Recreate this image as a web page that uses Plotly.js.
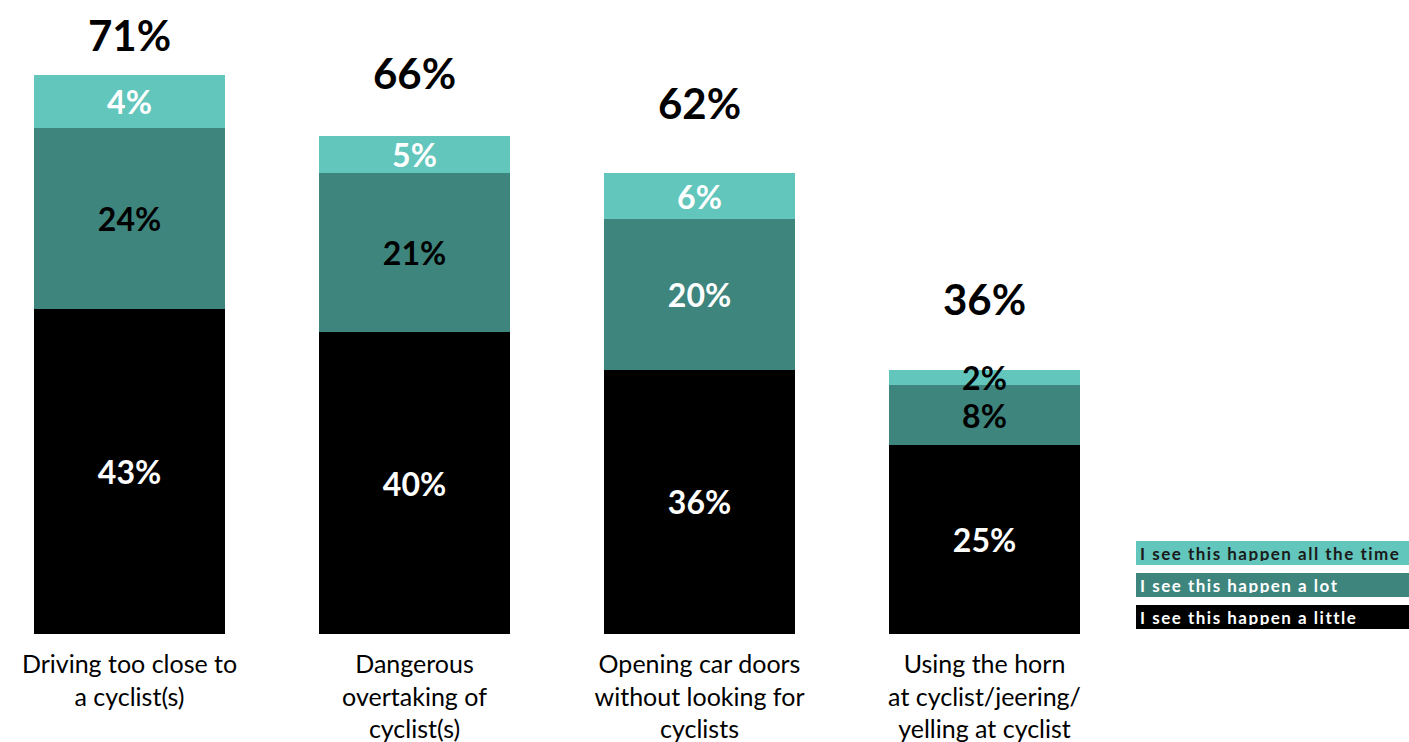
<!DOCTYPE html>
<html>
<head>
<meta charset="utf-8">
<script src="https://cdn.plot.ly/plotly-3.0.1.min.js"></script>
<style>html,body{margin:0;padding:0;background:#fff;}#chart{width:1409px;height:742px;}</style>
</head>
<body>
<div id="chart"></div>
<script>
// Categories (x)
const categories = [
  "Driving too close to<br>a cyclist(s)",
  "Dangerous<br>overtaking of<br>cyclist(s)",
  "Opening car doors<br>without looking for<br>cyclists",
  "Using the horn<br>at cyclist/jeering/<br>yelling at cyclist"
];
// Series names
const seriesNames = ["I see this happen a little", "I see this happen a lot", "I see this happen all the time"];
// Segment values as drawn (bar heights, %)
const littleValues = [43, 40, 35, 25];
const lotValues = [24, 21, 20, 8];
const allTimeValues = [7, 5, 6, 2];
// Segment labels as printed
const littleLabels = ["43%", "40%", "36%", "25%"];
const lotLabels = ["24%", "21%", "20%", "8%"];
const allTimeLabels = ["4%", "5%", "6%", "2%"];
// Totals printed above bars
const totalValues = [71, 66, 62, 36];
const totalLabels = ["71%", "66%", "62%", "36%"];

const colors = {little: "#000000", lot: "#3E857D", allTime: "#62C6BC"};
const FONT = "Lato, 'Open Sans', sans-serif";

const xIdx = categories.map((c, i) => i);

function barTrace(name, vals, labels, color, textColors) {
  return {
    type: "bar", name: name, x: xIdx, y: vals,
    text: labels, textposition: "inside", insidetextanchor: "middle",
    constraintext: "none", cliponaxis: false,
    textfont: {family: FONT, size: 32, weight: 700, color: textColors},
    marker: {color: color, line: {width: 0}},
    hoverinfo: "skip"
  };
}

const data = [
  barTrace(seriesNames[0], littleValues, littleLabels, colors.little, ["#fff","#fff","#fff","#fff"]),
  barTrace(seriesNames[1], lotValues, lotLabels, colors.lot, ["#000","#000","#fff","#000"]),
  barTrace(seriesNames[2], allTimeValues, allTimeLabels, colors.allTime, ["#fff","#fff","#fff","#000"])
];

const annotations = totalValues.map((v, i) => ({
  x: i, y: v, xref: "x", yref: "y", yshift: 63, yanchor: "middle",
  text: "<b>" + totalLabels[i] + "</b>", showarrow: false,
  font: {family: FONT, size: 42, color: "#000"}
}));

// Legend boxes
const legendItems = [
  {name: seriesNames[2], bg: colors.allTime, fc: "#1a1a1a", py: 553},
  {name: seriesNames[1], bg: colors.lot, fc: "#fff", py: 585},
  {name: seriesNames[0], bg: colors.little, fc: "#fff", py: 617}
];
const plotW = 1120, plotH = 634;
legendItems.forEach(it => {
  annotations.push({
    xref: "paper", yref: "paper", x: 1136 / plotW, y: (plotH - it.py) / plotH,
    xanchor: "left", yanchor: "middle", align: "left",
    width: 265, height: 16, borderpad: 4, borderwidth: 0,
    bgcolor: it.bg, showarrow: false,
    text: '<span style="letter-spacing:1.5px">' + it.name + '</span>',
    font: {family: FONT, size: 17, weight: 700, color: it.fc}
  });
});

const layout = {
  width: 1409, height: 742,
  margin: {l: 0, r: 1409 - plotW, t: 0, b: 742 - plotH},
  barmode: "stack", bargap: 0.333,
  showlegend: false,
  paper_bgcolor: "#fff", plot_bgcolor: "#fff",
  xaxis: {
    range: [-0.4544, 3.4754], tickvals: xIdx, ticktext: categories,
    showgrid: false, zeroline: false, showline: false, ticks: "",
    ticklabelstandoff: 13,
    tickfont: {family: FONT, size: 25, color: "#000"}, fixedrange: true
  },
  yaxis: {
    range: [0, plotH / 7.55], visible: false, showgrid: false, zeroline: false, fixedrange: true
  },
  annotations: annotations,
  font: {family: FONT}
};

Plotly.newPlot("chart", data, layout, {displayModeBar: false, staticPlot: true});
</script>
</body>
</html>
